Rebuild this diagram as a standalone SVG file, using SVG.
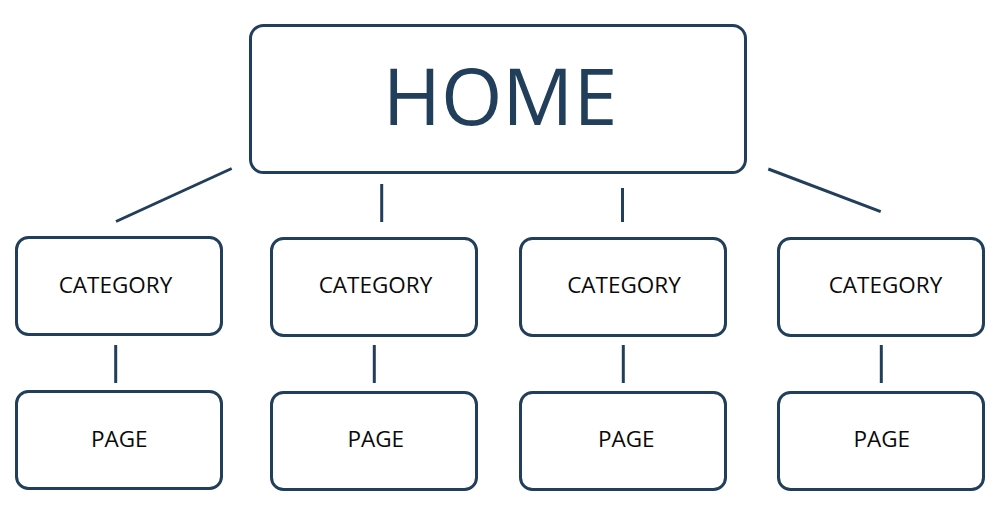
<svg xmlns="http://www.w3.org/2000/svg" width="1000" height="522" viewBox="0 0 1000 522">
<style>
.box{fill:#ffffff;stroke:#213e5a;stroke-width:3}
.ln{stroke:#213e5a;stroke-width:3;fill:none}
.t{font-family:"Open Sans","Noto Sans",sans-serif;font-size:22.5px;fill:#0a0a0a;text-anchor:middle}
.h{font-family:"Open Sans","Noto Sans",sans-serif;font-size:79px;fill:#213e5a;text-anchor:middle}
</style>
<rect width="1000" height="522" fill="#ffffff"/>
<g id="connectors">
<line class="ln" x1="231.7" y1="168.5" x2="116" y2="221.5"/>
<line class="ln" x1="381.7" y1="184" x2="381.7" y2="222"/>
<line class="ln" x1="622.5" y1="188" x2="622.5" y2="222"/>
<line class="ln" x1="768.3" y1="169" x2="880.7" y2="211.7"/>
<line class="ln" x1="115.7" y1="345" x2="115.7" y2="383"/>
<line class="ln" x1="374.3" y1="345" x2="374.3" y2="383"/>
<line class="ln" x1="623.3" y1="345" x2="623.3" y2="383"/>
<line class="ln" x1="881.3" y1="345" x2="881.3" y2="383"/>
</g>
<g id="home">
<rect class="box" x="250.5" y="25.5" width="495" height="147" rx="13"/>
<text class="h" x="500" y="125">HOME</text>
</g>
<g id="cat1">
<rect class="box" x="16.5" y="237.5" width="205" height="97" rx="12"/>
<text class="t" x="115.5" y="293.3">CATEGORY</text>
</g>
<g id="cat2">
<rect class="box" x="271.5" y="238.5" width="205" height="97" rx="12"/>
<text class="t" x="375.5" y="293.3">CATEGORY</text>
</g>
<g id="cat3">
<rect class="box" x="520.5" y="238.5" width="205" height="97" rx="12"/>
<text class="t" x="624" y="293.3">CATEGORY</text>
</g>
<g id="cat4">
<rect class="box" x="778.5" y="238.5" width="205" height="97" rx="12"/>
<text class="t" x="885.5" y="293.3">CATEGORY</text>
</g>
<g id="page1">
<rect class="box" x="16.5" y="391.5" width="205" height="97" rx="12"/>
<text class="t" x="119.2" y="446.5">PAGE</text>
</g>
<g id="page2">
<rect class="box" x="271.5" y="392.5" width="205" height="97" rx="12"/>
<text class="t" x="375.8" y="446.5">PAGE</text>
</g>
<g id="page3">
<rect class="box" x="520.5" y="392.5" width="205" height="97" rx="12"/>
<text class="t" x="626.2" y="446.5">PAGE</text>
</g>
<g id="page4">
<rect class="box" x="778.5" y="392.5" width="205" height="97" rx="12"/>
<text class="t" x="881.8" y="446.5">PAGE</text>
</g>
</svg>
